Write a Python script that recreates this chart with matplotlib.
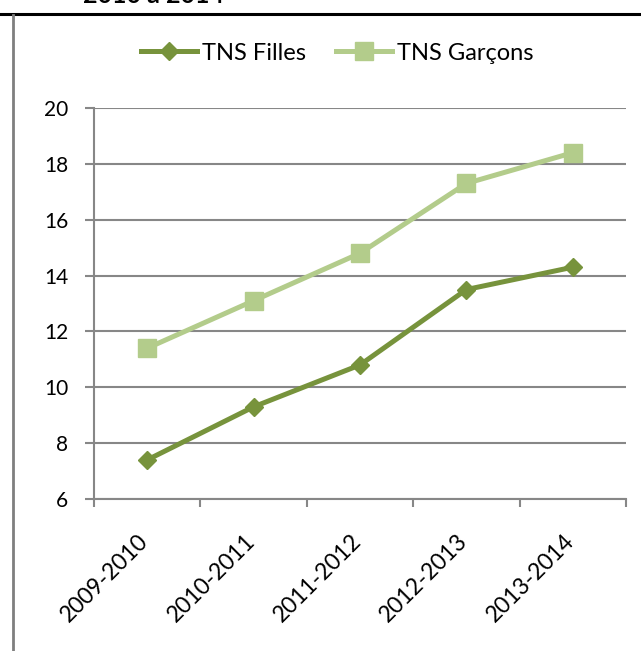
import matplotlib
matplotlib.use("Agg")
import matplotlib.pyplot as plt
from matplotlib.lines import Line2D
from matplotlib.transforms import ScaledTranslation

categories = ["2009-2010", "2010-2011", "2011-2012", "2012-2013", "2013-2014"]
filles = [7.4, 9.3, 10.8, 13.5, 14.3]
garcons = [11.4, 13.1, 14.8, 17.3, 18.4]
series_names = ["TNS Filles", "TNS Garçons"]
yticks = [6, 8, 10, 12, 14, 16, 18, 20]

plt.rcParams['font.family'] = ['Lato', 'DejaVu Sans']

W, H = 641, 651
fig = plt.figure(figsize=(W / 100, H / 100), dpi=100)

ax = fig.add_axes([94 / W, 1 - 499 / H, (626 - 94) / W, (499 - 108) / H])

c_f = "#77933C"
c_g = "#B3CC8B"
x = list(range(len(categories)))

ax.plot(x, garcons, color=c_g, lw=3.6, marker='s', ms=13.5, mfc=c_g, mec=c_g,
        label=series_names[1], zorder=3, solid_capstyle='round')
ax.plot(x, filles, color=c_f, lw=3.6, marker='D', ms=9.5, mfc=c_f, mec=c_f,
        label=series_names[0], zorder=4, solid_capstyle='round')

ax.set_xlim(-0.5, len(categories) - 0.5)
ax.set_ylim(6, 20)
ax.set_yticks(yticks)
ax.set_yticklabels([str(v) for v in yticks], fontsize=15)
ax.set_xticks([i - 0.5 for i in range(len(categories) + 1)], minor=False)
ax.set_xticklabels([])
ax.set_xticks(x, minor=True)
ax.set_xticklabels(categories, minor=True, rotation=45, ha='right', va='center',
                   rotation_mode='anchor', fontsize=16.5)
ax.tick_params(axis='x', which='minor', length=0, pad=0)
ax.tick_params(axis='x', which='major', length=6, width=1.5, color="#878787")
ax.tick_params(axis='y', length=6.5, width=1.5, color="#878787", pad=12)

for lab in ax.get_xticklabels(minor=True):
    lab.set_transform(lab.get_transform() + ScaledTranslation(-0.02, -0.39, fig.dpi_scale_trans))

ax.grid(axis='y', color="#878787", lw=1.5)
ax.set_axisbelow(True)
for s in ['top', 'right']:
    ax.spines[s].set_visible(False)
for s in ['left', 'bottom']:
    ax.spines[s].set_color("#878787")
    ax.spines[s].set_linewidth(1.5)

handles = [
    Line2D([], [], color=c_f, lw=3.6, marker='D', ms=9.5, mfc=c_f, mec=c_f),
    Line2D([], [], color=c_g, lw=3.6, marker='s', ms=13.5, mfc=c_g, mec=c_g),
]
fig.legend(handles, series_names, loc='center', bbox_to_anchor=(337 / W, 1 - 53 / H),
           ncol=2, frameon=False, fontsize=17, handlelength=2.4, handletextpad=0.2,
           columnspacing=1.25, borderpad=0, borderaxespad=0)

# outer frame lines
fig.add_artist(Line2D([0, 1], [1 - 14 / H, 1 - 14 / H], color='black', lw=2.2,
                      transform=fig.transFigure))
fig.add_artist(Line2D([13 / W, 13 / W], [0, 1 - 15 / H], color='#7f7f7f', lw=2,
                      transform=fig.transFigure))
fig.text(83 / W, 1 - 3 / H, "2010 à 2014", fontsize=18, fontweight='bold',
         ha='left', va='baseline', transform=fig.transFigure)

fig.savefig("out.png", dpi=100)
